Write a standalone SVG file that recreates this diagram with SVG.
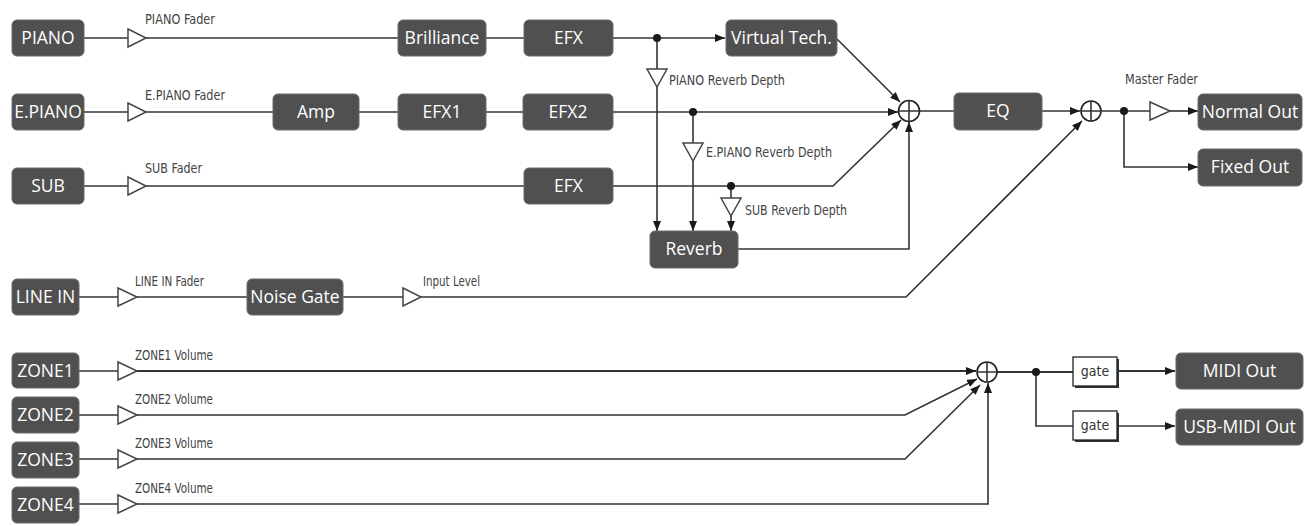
<svg xmlns="http://www.w3.org/2000/svg" width="1312" height="526" viewBox="0 0 1312 526">
<style>
.box{fill:#505050;stroke:#6a6a6a;stroke-width:1}
.bt{fill:#ffffff;font-family:"Open Sans","Noto Sans",sans-serif;font-size:17.5px;text-anchor:middle}
.lbl{fill:#444;font-family:"Liberation Sans Narrow","DejaVu Sans Condensed",sans-serif;font-size:14px}
.ln{fill:none;stroke:#333;stroke-width:1.6}
.thick{stroke-width:2.2}
.amp{fill:#fff;stroke:#444;stroke-width:1.5}
.dot{fill:#1a1a1a}
.sum{fill:#fff;stroke:#222;stroke-width:1.6}
.gate{fill:#fff;stroke:#222;stroke-width:1.3}
.gt{fill:#333;font-family:"Liberation Sans Narrow","DejaVu Sans Condensed",sans-serif;font-size:14px;text-anchor:middle}
</style>
<defs>
<marker id="ah" viewBox="0 0 10 8" refX="10" refY="4" markerWidth="10" markerHeight="8" markerUnits="userSpaceOnUse" orient="auto">
<path d="M0,0 L10,4 L0,8 z" fill="#1a1a1a"/>
</marker>
</defs>
<rect width="1312" height="526" fill="#ffffff"/>

<g id="connectors">
<path class="ln" d="M84,38 H128"/>
<path class="ln" d="M146,38 H398"/>
<path class="ln" d="M486,38 H524"/>
<path class="ln" d="M613,38 H725" marker-end="url(#ah)"/>
<path class="ln" d="M837,39 L900,102" marker-end="url(#ah)"/>
<path class="ln" d="M84,112 H128"/>
<path class="ln" d="M146,112 H273"/>
<path class="ln" d="M359,112 H398"/>
<path class="ln" d="M486,112 H523"/>
<path class="ln" d="M613,112 H898" marker-end="url(#ah)"/>
<path class="ln" d="M84,186 H128"/>
<path class="ln" d="M146,186 H524"/>
<path class="ln" d="M613,186 H833 L901,120" marker-end="url(#ah)"/>
<path class="ln" d="M657,38 V69"/>
<path class="ln" d="M657,87 V231" marker-end="url(#ah)"/>
<path class="ln" d="M693,112 V143"/>
<path class="ln" d="M693,161 V231" marker-end="url(#ah)"/>
<path class="ln" d="M731,186 V198"/>
<path class="ln" d="M731,216 V231" marker-end="url(#ah)"/>
<path class="ln" d="M738,249 H909 V122" marker-end="url(#ah)"/>
<path class="ln" d="M919.5,111 H954"/>
<path class="ln" d="M1042,111 H1080" marker-end="url(#ah)"/>
<path class="ln" d="M1101,111 H1150"/>
<path class="ln" d="M1170,111 H1198" marker-end="url(#ah)"/>
<path class="ln" d="M1124,111 V167 H1198" marker-end="url(#ah)"/>
<path class="ln" d="M79,297 H118"/>
<path class="ln" d="M137,297 H247"/>
<path class="ln" d="M343,297 H403"/>
<path class="ln" d="M421,297 H906 L1082,121" marker-end="url(#ah)"/>
<path class="ln" d="M79,371 H118"/>
<path class="ln thick" d="M137,371 H976" marker-end="url(#ah)"/>
<path class="ln" d="M79,415 H118"/>
<path class="ln" d="M137,415 H905 L977,379" marker-end="url(#ah)"/>
<path class="ln" d="M79,459 H118"/>
<path class="ln" d="M137,459 H905 L980,385" marker-end="url(#ah)"/>
<path class="ln" d="M79,504 H118"/>
<path class="ln" d="M137,504 H988 V383" marker-end="url(#ah)"/>
<path class="ln thick" d="M997,372 H1073"/>
<path class="ln thick" d="M1117,371 H1175" marker-end="url(#ah)"/>
<path class="ln" d="M1036,372 V426 H1073"/>
<path class="ln" d="M1117,426 H1175" marker-end="url(#ah)"/>
<circle class="dot" cx="657" cy="38" r="4"/>
<circle class="dot" cx="693" cy="112" r="4"/>
<circle class="dot" cx="731" cy="186" r="4"/>
<circle class="dot" cx="1124" cy="111" r="4"/>
<circle class="dot" cx="1036" cy="372" r="4"/>
</g>

<g id="faders">
<polygon class="amp" points="128,29 128,47 146,38"/>
<polygon class="amp" points="128,103 128,121 146,112"/>
<polygon class="amp" points="128,177 128,195 146,186"/>
<polygon class="amp" points="647,69 667,69 657,87"/>
<polygon class="amp" points="683,143 703,143 693,161"/>
<polygon class="amp" points="721,198 741,198 731,216"/>
<polygon class="amp" points="1150,102 1150,120 1170,111"/>
<polygon class="amp" points="118,288 118,306 137,297"/>
<polygon class="amp" points="403,288 403,306 421,297"/>
<polygon class="amp" points="118,362 118,380 137,371"/>
<polygon class="amp" points="118,406 118,424 137,415"/>
<polygon class="amp" points="118,450 118,468 137,459"/>
<polygon class="amp" points="118,495 118,513 137,504"/>
</g>

<g id="labels">
<text class="lbl" x="145" y="24" textLength="70" lengthAdjust="spacingAndGlyphs">PIANO Fader</text>
<text class="lbl" x="145" y="100" textLength="80" lengthAdjust="spacingAndGlyphs">E.PIANO Fader</text>
<text class="lbl" x="145" y="173" textLength="57" lengthAdjust="spacingAndGlyphs">SUB Fader</text>
<text class="lbl" x="669" y="85" textLength="116" lengthAdjust="spacingAndGlyphs">PIANO Reverb Depth</text>
<text class="lbl" x="706" y="157" textLength="126" lengthAdjust="spacingAndGlyphs">E.PIANO Reverb Depth</text>
<text class="lbl" x="745" y="215" textLength="102" lengthAdjust="spacingAndGlyphs">SUB Reverb Depth</text>
<text class="lbl" x="1125" y="84" textLength="73" lengthAdjust="spacingAndGlyphs">Master Fader</text>
<text class="lbl" x="135" y="286" textLength="69" lengthAdjust="spacingAndGlyphs">LINE IN Fader</text>
<text class="lbl" x="423" y="286" textLength="57" lengthAdjust="spacingAndGlyphs">Input Level</text>
<text class="lbl" x="135" y="360" textLength="78" lengthAdjust="spacingAndGlyphs">ZONE1 Volume</text>
<text class="lbl" x="135" y="404" textLength="78" lengthAdjust="spacingAndGlyphs">ZONE2 Volume</text>
<text class="lbl" x="135" y="448" textLength="78" lengthAdjust="spacingAndGlyphs">ZONE3 Volume</text>
<text class="lbl" x="135" y="493" textLength="78" lengthAdjust="spacingAndGlyphs">ZONE4 Volume</text>
</g>

<g id="piano"><rect class="box" x="12" y="20" width="72" height="36" rx="5"/><text class="bt" x="48" y="44">PIANO</text></g>
<g id="epiano"><rect class="box" x="12" y="94" width="72" height="36" rx="5"/><text class="bt" x="48" y="118">E.PIANO</text></g>
<g id="sub"><rect class="box" x="12" y="168" width="72" height="36" rx="5"/><text class="bt" x="48" y="192">SUB</text></g>
<g id="brilliance"><rect class="box" x="398" y="20" width="88" height="36" rx="5"/><text class="bt" x="442" y="44">Brilliance</text></g>
<g id="efx-piano"><rect class="box" x="524" y="20" width="89" height="36" rx="5"/><text class="bt" x="568.5" y="44">EFX</text></g>
<g id="virtual-tech"><rect class="box" x="726" y="20" width="111" height="36" rx="5"/><text class="bt" x="781.5" y="44">Virtual Tech.</text></g>
<g id="amp"><rect class="box" x="273" y="94" width="86" height="36" rx="5"/><text class="bt" x="316" y="118">Amp</text></g>
<g id="efx1"><rect class="box" x="398" y="94" width="88" height="36" rx="5"/><text class="bt" x="442" y="118">EFX1</text></g>
<g id="efx2"><rect class="box" x="523" y="94" width="90" height="36" rx="5"/><text class="bt" x="568" y="118">EFX2</text></g>
<g id="efx-sub"><rect class="box" x="524" y="168" width="89" height="36" rx="5"/><text class="bt" x="568.5" y="192">EFX</text></g>
<g id="reverb"><rect class="box" x="650" y="231" width="88" height="37" rx="5"/><text class="bt" x="694" y="255">Reverb</text></g>
<g id="sum1"><circle class="sum" cx="909" cy="111" r="10.5"/><path class="ln" d="M898.5,111 H919.5 M909,100.5 V121.5"/></g>
<g id="eq"><rect class="box" x="954" y="93" width="88" height="37" rx="5"/><text class="bt" x="998" y="117">EQ</text></g>
<g id="sum2"><circle class="sum" cx="1091" cy="111" r="10"/><path class="ln" d="M1081,111 H1101 M1091,101 V121"/></g>
<g id="normal-out"><rect class="box" x="1198" y="94" width="104" height="36" rx="5"/><text class="bt" x="1250" y="118">Normal Out</text></g>
<g id="fixed-out"><rect class="box" x="1198" y="149" width="104" height="37" rx="5"/><text class="bt" x="1250" y="173">Fixed Out</text></g>
<g id="line-in"><rect class="box" x="12" y="279" width="67" height="36" rx="5"/><text class="bt" x="45.5" y="303">LINE IN</text></g>
<g id="noise-gate"><rect class="box" x="247" y="279" width="96" height="36" rx="5"/><text class="bt" x="295" y="303">Noise Gate</text></g>
<g id="zone1"><rect class="box" x="12" y="353" width="67" height="35" rx="5"/><text class="bt" x="45.5" y="377">ZONE1</text></g>
<g id="zone2"><rect class="box" x="12" y="397" width="67" height="36" rx="5"/><text class="bt" x="45.5" y="421">ZONE2</text></g>
<g id="zone3"><rect class="box" x="12" y="442" width="67" height="36" rx="5"/><text class="bt" x="45.5" y="466">ZONE3</text></g>
<g id="zone4"><rect class="box" x="12" y="487" width="67" height="36" rx="5"/><text class="bt" x="45.5" y="511">ZONE4</text></g>
<g id="sum3"><circle class="sum" cx="987" cy="372" r="10"/><path class="ln" d="M977,372 H997 M987,362 V382"/></g>
<g id="gate1"><rect x="1075" y="359" width="44" height="29" fill="#333"/><rect class="gate" x="1073" y="357" width="44" height="29"/><text class="gt" x="1095" y="376">gate</text></g>
<g id="gate2"><rect x="1075" y="413" width="44" height="29" fill="#333"/><rect class="gate" x="1073" y="411" width="44" height="29"/><text class="gt" x="1095" y="430">gate</text></g>
<g id="midi-out"><rect class="box" x="1176" y="353" width="127" height="36" rx="5"/><text class="bt" x="1239.5" y="377">MIDI Out</text></g>
<g id="usb-midi-out"><rect class="box" x="1176" y="409" width="127" height="36" rx="5"/><text class="bt" x="1239.5" y="433">USB-MIDI Out</text></g>
</svg>
